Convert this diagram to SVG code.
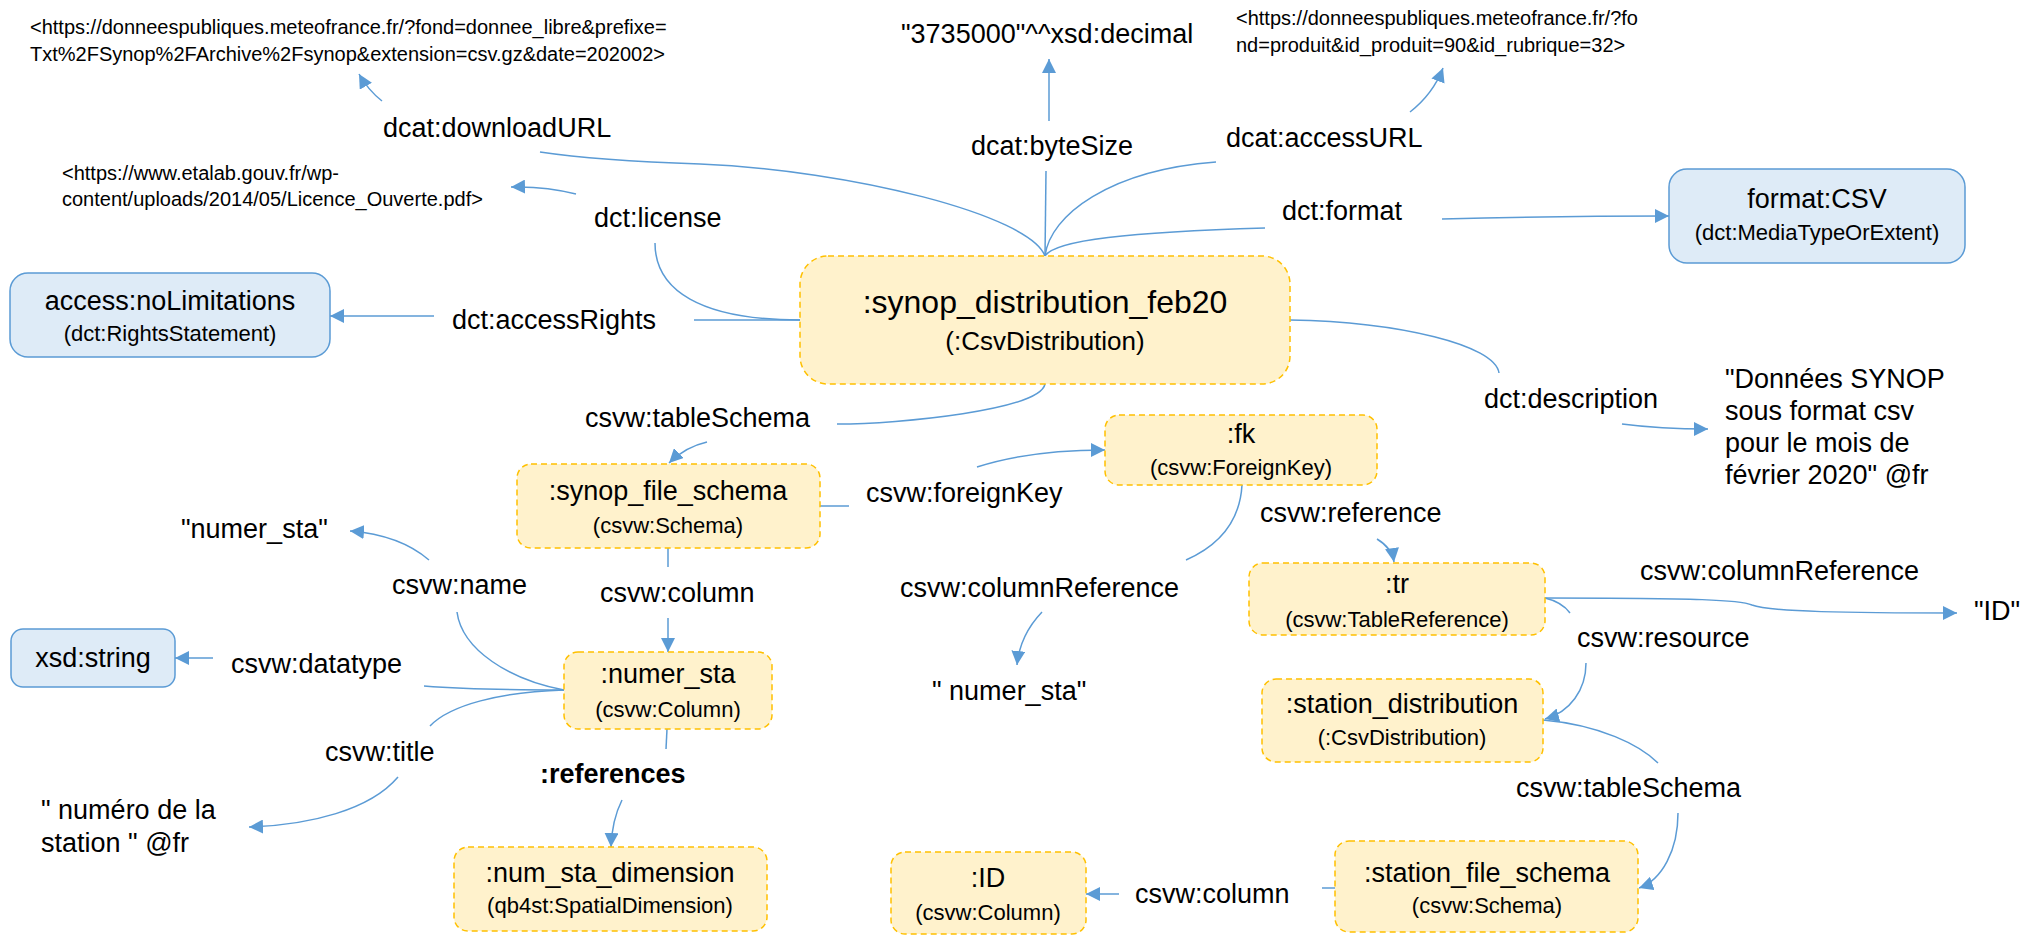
<svg xmlns="http://www.w3.org/2000/svg" width="2040" height="936" viewBox="0 0 2040 936">
  <defs>
    <marker id="ah" markerUnits="userSpaceOnUse" markerWidth="15" markerHeight="14" refX="14" refY="7" orient="auto">
      <path d="M0,0 L14,7 L0,14 z" fill="#5B9BD5"/>
    </marker>
    <style>
      text { font-family: "Liberation Sans", Arial, sans-serif; fill: #000; }
      .lbl { font-size: 27px; }
      .lit { font-size: 27px; }
      .url { font-size: 20px; }
      .big { font-size: 32px; text-anchor: middle; }
      .bigsub { font-size: 26px; text-anchor: middle; }
      .nm { font-size: 27px; text-anchor: middle; }
      .sub { font-size: 22px; text-anchor: middle; }
      .bold { font-weight: bold; }
      .edge { fill: none; stroke: #5B9BD5; stroke-width: 1.5; }
      .arr { marker-end: url(#ah); }
      .ny { fill: #FFF2CC; stroke: #FFC000; stroke-width: 1.5; stroke-dasharray: 6 4; }
      .nb { fill: #DEEBF7; stroke: #5B9BD5; stroke-width: 1.5; }
    </style>
  </defs>
  <rect width="2040" height="936" fill="#FFFFFF"/>

  <!-- connectors and property labels -->
  <g id="connectors">
    <!-- dcat:downloadURL -->
    <path class="edge" d="M1045,256 C1030,215 850,170 700,164 C640,162 580,158 540,152"/>
    <path class="edge arr" d="M382,101 Q368,90 359,74"/>
    <text class="lbl" x="383" y="137">dcat:downloadURL</text>

    <!-- dcat:byteSize -->
    <path class="edge" d="M1045,256 L1046,171"/>
    <path class="edge arr" d="M1049,121 L1049,59"/>
    <text class="lbl" x="971" y="155">dcat:byteSize</text>

    <!-- dcat:accessURL -->
    <path class="edge" d="M1045,256 C1050,215 1110,170 1216,162"/>
    <path class="edge arr" d="M1410,112 Q1433,94 1443,68"/>
    <text class="lbl" x="1226" y="147">dcat:accessURL</text>

    <!-- dct:format -->
    <path class="edge" d="M1045,256 C1055,240 1130,232 1265,228"/>
    <path class="edge arr" d="M1442,219 C1520,217 1600,216 1669,216"/>
    <text class="lbl" x="1282" y="220">dct:format</text>

    <!-- dct:license -->
    <path class="edge" d="M800,320 C700,320 655,290 655,243"/>
    <path class="edge arr" d="M576,194 Q545,186 511,187"/>
    <text class="lbl" x="594" y="227">dct:license</text>

    <!-- dct:accessRights -->
    <path class="edge" d="M694,320 L800,320"/>
    <path class="edge arr" d="M434,316 L330,316"/>
    <text class="lbl" x="452" y="329">dct:accessRights</text>

    <!-- dct:description -->
    <path class="edge" d="M1290,320 C1400,322 1495,345 1499,373"/>
    <path class="edge arr" d="M1622,424 Q1660,429 1708,429"/>
    <text class="lbl" x="1484" y="408">dct:description</text>

    <!-- csvw:tableSchema (distribution to schema) -->
    <path class="edge" d="M1045,384 C1040,410 900,424 837,424"/>
    <path class="edge arr" d="M707,442 Q685,447 669,463"/>
    <text class="lbl" x="585" y="427">csvw:tableSchema</text>

    <!-- csvw:foreignKey -->
    <path class="edge" d="M820,506 L849,506"/>
    <path class="edge arr" d="M977,467 Q1030,450 1105,450"/>
    <text class="lbl" x="866" y="502">csvw:foreignKey</text>

    <!-- csvw:columnReference (fk) -->
    <path class="edge" d="M1242,485 C1240,520 1220,545 1186,560"/>
    <path class="edge arr" d="M1042,612 Q1020,635 1017,665"/>
    <text class="lbl" x="900" y="597">csvw:columnReference</text>

    <!-- csvw:reference -->
    <path class="edge arr" d="M1377,539 Q1392,548 1394,562"/>
    <text class="lbl" x="1260" y="522">csvw:reference</text>

    <!-- csvw:columnReference (tr) -->
    <path class="edge arr" d="M1545,598 C1700,598 1740,600 1752,605 C1770,612 1850,613 1957,613"/>
    <text class="lbl" x="1640" y="580">csvw:columnReference</text>

    <!-- csvw:resource -->
    <path class="edge" d="M1545,598 Q1562,602 1570,613"/>
    <path class="edge arr" d="M1586,663 C1586,690 1570,712 1545,719"/>
    <text class="lbl" x="1577" y="647">csvw:resource</text>

    <!-- csvw:tableSchema (station) -->
    <path class="edge" d="M1543,720 C1600,725 1640,745 1658,763"/>
    <path class="edge arr" d="M1678,813 C1678,850 1662,880 1639,888"/>
    <text class="lbl" x="1516" y="797">csvw:tableSchema</text>

    <!-- csvw:column (station) -->
    <path class="edge" d="M1335,888 L1322,888"/>
    <path class="edge arr" d="M1119,894 L1086,894"/>
    <text class="lbl" x="1135" y="903">csvw:column</text>

    <!-- csvw:column (synop) -->
    <path class="edge" d="M668,548 L668,567"/>
    <path class="edge arr" d="M668,618 L668,652"/>
    <text class="lbl" x="600" y="602">csvw:column</text>

    <!-- csvw:name -->
    <path class="edge" d="M564,690 C510,680 462,650 457,612"/>
    <path class="edge arr" d="M429,560 Q400,535 350,531"/>
    <text class="lbl" x="392" y="594">csvw:name</text>

    <!-- csvw:datatype -->
    <path class="edge" d="M564,690 C500,690 450,688 424,686"/>
    <path class="edge arr" d="M213,658 L175,658"/>
    <text class="lbl" x="231" y="673">csvw:datatype</text>

    <!-- csvw:title -->
    <path class="edge" d="M564,690 C500,692 450,705 430,726"/>
    <path class="edge arr" d="M398,777 C370,810 310,825 249,827"/>
    <text class="lbl" x="325" y="761">csvw:title</text>

    <!-- :references -->
    <path class="edge" d="M667,729 L666,749"/>
    <path class="edge arr" d="M622,800 Q612,820 611,847"/>
    <text class="lbl bold" x="540" y="783">:references</text>
  </g>

  <!-- nodes -->
  <g id="synop_distribution_feb20">
    <rect class="ny" x="800" y="256" width="490" height="128" rx="28"/>
    <text class="big" x="1045" y="313">:synop_distribution_feb20</text>
    <text class="bigsub" x="1045" y="350">(:CsvDistribution)</text>
  </g>

  <g id="url_download">
    <text class="url" x="30" y="34">&lt;https://donneespubliques.meteofrance.fr/?fond=donnee_libre&amp;prefixe=</text>
    <text class="url" x="30" y="61">Txt%2FSynop%2FArchive%2Fsynop&amp;extension=csv.gz&amp;date=202002&gt;</text>
  </g>

  <g id="byte_size">
    <text class="lit" x="901" y="43">"3735000"^^xsd:decimal</text>
  </g>

  <g id="url_access">
    <text class="url" x="1236" y="25">&lt;https://donneespubliques.meteofrance.fr/?fo</text>
    <text class="url" x="1236" y="52">nd=produit&amp;id_produit=90&amp;id_rubrique=32&gt;</text>
  </g>

  <g id="url_license">
    <text class="url" x="62" y="180">&lt;https://www.etalab.gouv.fr/wp-</text>
    <text class="url" x="62" y="206">content/uploads/2014/05/Licence_Ouverte.pdf&gt;</text>
  </g>

  <g id="format_csv">
    <rect class="nb" x="1669" y="169" width="296" height="94" rx="18"/>
    <text class="nm" x="1817" y="208">format:CSV</text>
    <text class="sub" x="1817" y="240">(dct:MediaTypeOrExtent)</text>
  </g>

  <g id="no_limitations">
    <rect class="nb" x="10" y="273" width="320" height="84" rx="18"/>
    <text class="nm" x="170" y="310">access:noLimitations</text>
    <text class="sub" x="170" y="341">(dct:RightsStatement)</text>
  </g>

  <g id="description">
    <text class="lit" x="1725" y="388">"Données SYNOP</text>
    <text class="lit" x="1725" y="420">sous format csv</text>
    <text class="lit" x="1725" y="452">pour le mois de</text>
    <text class="lit" x="1725" y="484">février 2020" @fr</text>
  </g>

  <g id="synop_file_schema">
    <rect class="ny" x="517" y="464" width="303" height="84" rx="14"/>
    <text class="nm" x="668" y="500">:synop_file_schema</text>
    <text class="sub" x="668" y="533">(csvw:Schema)</text>
  </g>

  <g id="fk">
    <rect class="ny" x="1105" y="415" width="272" height="70" rx="14"/>
    <text class="nm" x="1241" y="443">:fk</text>
    <text class="sub" x="1241" y="475">(csvw:ForeignKey)</text>
  </g>

  <g id="fk_column_ref">
    <text class="lit" x="932" y="700">" numer_sta"</text>
  </g>

  <g id="tr">
    <rect class="ny" x="1249" y="563" width="296" height="72" rx="14"/>
    <text class="nm" x="1397" y="593">:tr</text>
    <text class="sub" x="1397" y="627">(csvw:TableReference)</text>
  </g>

  <g id="tr_column_ref">
    <text class="lit" x="1974" y="620">"ID"</text>
  </g>

  <g id="station_distribution">
    <rect class="ny" x="1262" y="679" width="281" height="83" rx="14"/>
    <text class="nm" x="1402" y="713">:station_distribution</text>
    <text class="sub" x="1402" y="745">(:CsvDistribution)</text>
  </g>

  <g id="station_file_schema">
    <rect class="ny" x="1335" y="841" width="303" height="91" rx="14"/>
    <text class="nm" x="1487" y="882">:station_file_schema</text>
    <text class="sub" x="1487" y="913">(csvw:Schema)</text>
  </g>

  <g id="id_column">
    <rect class="ny" x="891" y="852" width="195" height="82" rx="14"/>
    <text class="nm" x="988" y="887">:ID</text>
    <text class="sub" x="988" y="920">(csvw:Column)</text>
  </g>

  <g id="numer_sta">
    <rect class="ny" x="564" y="652" width="208" height="77" rx="14"/>
    <text class="nm" x="668" y="683">:numer_sta</text>
    <text class="sub" x="668" y="717">(csvw:Column)</text>
  </g>

  <g id="numer_sta_name">
    <text class="lit" x="181" y="538">"numer_sta"</text>
  </g>

  <g id="xsd_string">
    <rect class="nb" x="11" y="629" width="164" height="58" rx="12"/>
    <text class="nm" x="93" y="667">xsd:string</text>
  </g>

  <g id="numer_sta_title">
    <text class="lit" x="41" y="819">" numéro de la</text>
    <text class="lit" x="41" y="852">station " @fr</text>
  </g>

  <g id="num_sta_dimension">
    <rect class="ny" x="454" y="847" width="313" height="84" rx="14"/>
    <text class="nm" x="610" y="882">:num_sta_dimension</text>
    <text class="sub" x="610" y="913">(qb4st:SpatialDimension)</text>
  </g>
</svg>
